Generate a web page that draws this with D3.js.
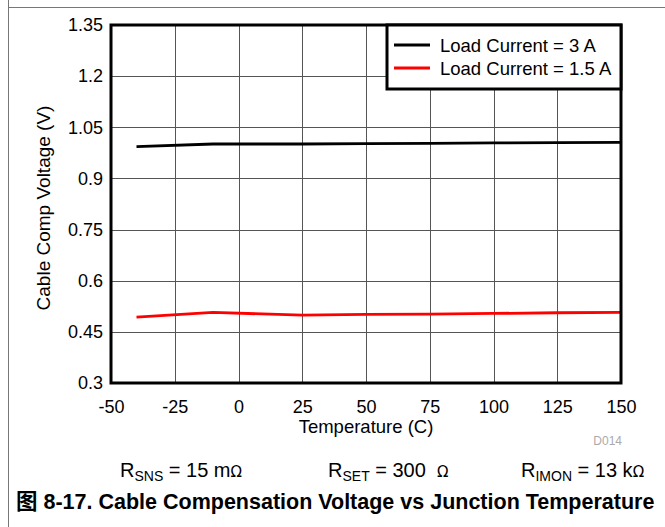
<!DOCTYPE html>
<html>
<head>
<meta charset="utf-8">
<script src="https://cdn.jsdelivr.net/npm/d3@7"></script>
<style>
  html, body { margin: 0; padding: 0; background: #fff; }
  svg { display: block; }
</style>
</head>
<body>
<svg id="chart" width="665" height="527" font-family="Liberation Sans, Arial, Helvetica, sans-serif"></svg>
<script>
// Junction temperature (°C) at each measurement
const temperatures = [-40, -10, 25, 50, 75, 100, 125, 150];
// Cable compensation voltage (V) for each load current
const current3A   = [0.993, 1.001, 1.001, 1.002, 1.003, 1.004, 1.005, 1.006];
const current1p5A = [0.493, 0.507, 0.499, 0.501, 0.502, 0.504, 0.506, 0.507];
const seriesNames = ["Load Current = 3 A", "Load Current = 1.5 A"];
const seriesColors = ["#000000", "#ff0000"];
const xTicks = [-50, -25, 0, 25, 50, 75, 100, 125, 150];
const yTicks = [0.3, 0.45, 0.6, 0.75, 0.9, 1.05, 1.2, 1.35];

const svg = d3.select("#chart");

// outer page frame lines
svg.append("line").attr("x1", 8.5).attr("x2", 8.5).attr("y1", 0).attr("y2", 527)
  .attr("stroke", "#777").attr("stroke-width", 1);
svg.append("line").attr("x1", 8).attr("x2", 665).attr("y1", 7.5).attr("y2", 7.5)
  .attr("stroke", "#777").attr("stroke-width", 1);

const plot = { left: 111, right: 621, top: 25, bottom: 383 };

const x = d3.scaleLinear().domain([-50, 150]).range([plot.left, plot.right]);
const y = d3.scaleLinear().domain([0.3, 1.35]).range([plot.bottom, plot.top]);

// grid
const grid = svg.append("g");
grid.selectAll("line.vx").data(xTicks.slice(1, -1)).enter().append("line")
  .attr("x1", d => Math.round(x(d)) + 0.5).attr("x2", d => Math.round(x(d)) + 0.5)
  .attr("y1", plot.top).attr("y2", plot.bottom)
  .attr("stroke", "#555").attr("stroke-width", 1);
grid.selectAll("line.hy").data(yTicks.slice(1, -1)).enter().append("line")
  .attr("x1", plot.left).attr("x2", plot.right)
  .attr("y1", d => Math.round(y(d)) + 0.5).attr("y2", d => Math.round(y(d)) + 0.5)
  .attr("stroke", "#555").attr("stroke-width", 1);

// axes (labels only, frame drawn separately); plain hyphen for negatives
const xAxis = d3.axisBottom(x).tickValues(xTicks).tickSize(0).tickPadding(0)
  .tickFormat(d => String(d));
const gx = svg.append("g").attr("transform", `translate(0,${plot.bottom})`).call(xAxis);
gx.select(".domain").remove();
gx.attr("font-family", null).attr("font-size", null);
gx.selectAll("text").attr("font-size", 18).attr("fill", "#000")
  .attr("y", 30).attr("dy", null);

const yAxis = d3.axisLeft(y).tickValues(yTicks).tickSize(0).tickPadding(8)
  .tickFormat(d => String(+d.toFixed(2)));
const gy = svg.append("g").attr("transform", `translate(${plot.left},0)`).call(yAxis);
gy.select(".domain").remove();
gy.attr("font-family", null).attr("font-size", null);
gy.selectAll("text").attr("font-size", 18).attr("fill", "#000");

// series lines
const line = d3.line().x((d, i) => x(temperatures[i])).y(d => y(d));
[current3A, current1p5A].forEach((vals, k) => {
  svg.append("path").datum(vals).attr("d", line)
    .attr("fill", "none").attr("stroke", seriesColors[k]).attr("stroke-width", 2.8);
});

// plot frame
svg.append("rect").attr("x", plot.left).attr("y", plot.top)
  .attr("width", plot.right - plot.left).attr("height", plot.bottom - plot.top)
  .attr("fill", "none").attr("stroke", "#000").attr("stroke-width", 3);

// legend
const lg = svg.append("g");
lg.append("rect").attr("x", 387).attr("y", plot.top).attr("width", plot.right - 387).attr("height", 64)
  .attr("fill", "#fff").attr("stroke", "#000").attr("stroke-width", 3);
seriesNames.forEach((name, k) => {
  const yy = 45 + k * 23;
  lg.append("line").attr("x1", 394).attr("x2", 430).attr("y1", yy).attr("y2", yy)
    .attr("stroke", seriesColors[k]).attr("stroke-width", 2.8);
  lg.append("text").attr("x", 440).attr("y", yy + 6.5).attr("font-size", 18.5).text(name);
});

// axis titles
svg.append("text").attr("x", (plot.left + plot.right) / 2).attr("y", 433)
  .attr("text-anchor", "middle").attr("font-size", 18.5).text("Temperature (C)");
svg.append("text").attr("transform", "translate(50,208) rotate(-90)")
  .attr("text-anchor", "middle").attr("font-size", 19).text("Cable Comp Voltage (V)");

svg.append("text").attr("x", 622).attr("y", 445).attr("text-anchor", "end")
  .attr("font-size", 12).attr("fill", "#aaa").text("D014");

// resistor settings
const notes = [
  { x: 120, sub: "SNS", rest: " = 15 m", omega: "Ω" },
  { x: 328, sub: "SET", rest: " = 300  ", omega: "Ω" },
  { x: 521, sub: "IMON", rest: " = 13 k", omega: "Ω" }
];
notes.forEach(n => {
  const t = svg.append("text").attr("x", n.x).attr("y", 477).attr("font-size", 20)
    .style("white-space", "pre");
  t.append("tspan").text("R");
  t.append("tspan").attr("font-size", 14).attr("dy", 4).text(n.sub);
  t.append("tspan").attr("dy", -4).text(n.rest);
  t.append("tspan").attr("font-size", 15).attr("font-family", "DejaVu Sans").text(n.omega);
});

// figure caption
svg.append("text").attr("x", 16).attr("y", 509).attr("font-size", 21.5).attr("font-weight", "bold")
  .attr("font-family", "Liberation Sans, Noto Sans CJK SC, sans-serif")
  .text("图 8-17. Cable Compensation Voltage vs Junction Temperature");
</script>
</body>
</html>
